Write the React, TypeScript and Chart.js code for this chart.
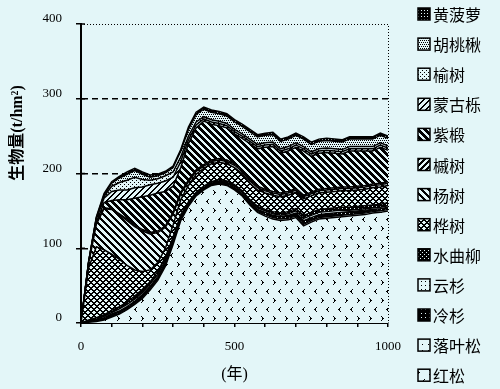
import React, { useEffect, useRef } from "react";
import { Chart, registerables } from "chart.js";
Chart.register(...registerables);

const BG = "#e3f6f8";

// years (x) sampled every 25 years
const years = [0,25,50,75,100,125,150,175,200,225,250,275,300,325,350,375,400,425,450,475,500,525,550,575,600,625,650,675,700,725,750,775,800,825,850,875,900,925,950,975,1000];

// biomass (t/hm2) per species, bottom of the stack first
const hongsong = [0,1,2,4,8,12,18,25,33,44,57,76,105,137,156,170,178,184,186,184,178,170,158,148,143,139,137,138,141,130,135,139,140,141,142,143,144,145,147,148,150];
const luoyesong = [0,0,1,1,1,1,1,1,2,2,2,2,2,1,1,1,1,1,1,1,1,1,1,1,2,2,2,2,2,2,2,2,2,2,2,2,2,2,2,2,2];
const lengshan = [0,1,1,2,3,3,3,3,3,3,3,3,3,2,2,1,1,1,2,2,2,2,2,3,3,3,3,4,4,5,4,4,4,4,4,4,4,4,3,3,3];
const yunshan = [0,1,1,2,2,3,3,3,3,3,3,3,2,2,1,1,1,1,1,1,2,2,2,2,2,2,2,2,3,3,3,3,3,3,3,2,2,2,2,2,2];
const shuiquliu = [0,1,2,2,3,3,3,4,4,3,4,4,3,3,2,2,2,2,2,2,2,2,2,2,2,3,3,3,3,4,4,4,4,4,4,4,4,4,4,4,4];
const huashu = [0,70,95,87,75,63,49,35,24,16,12,12,16,20,22,24,24,24,23,23,23,23,22,22,22,22,22,22,22,22,22,22,22,22,22,22,22,22,23,23,23];
const yangshu = [0,6,30,55,60,60,60,58,54,48,40,28,15,8,5,4,3,3,3,3,3,3,3,3,3,3,3,3,3,3,3,3,3,3,3,3,3,3,3,3,3];
const qishu = [0,0,1,1,1,1,2,2,2,2,2,2,2,2,2,2,2,2,2,2,2,2,2,2,2,2,2,2,2,2,2,2,2,2,2,2,2,2,2,2,2];
const ziduan = [0,0,2,7,11,19,26,36,44,50,51,46,35,33,49,56,58,48,44,43,40,42,48,50,56,60,53,54,55,59,48,48,48,46,44,48,47,46,44,48,42];
const mengguli = [0,2,4,6,12,13,13,14,13,14,13,14,12,8,5,4,3,3,3,3,3,3,3,3,3,3,3,3,3,3,3,3,3,3,3,3,3,3,3,3,3];
const yushu = [0,0,1,2,7,10,13,14,10,6,6,7,7,6,5,4,3,3,3,3,3,3,3,3,3,3,3,3,3,3,3,3,3,3,3,3,3,3,3,3,3];
const hutaoqiu = [0,0,1,2,4,6,8,9,7,4,4,4,6,8,9,10,10,10,10,10,10,10,10,10,10,10,10,10,10,10,10,10,10,10,10,10,10,10,10,10,10];
const huangboluo = [0,0,1,2,2,2,3,3,3,3,2,2,2,2,3,3,3,3,3,3,3,3,3,3,3,3,3,3,3,3,3,3,3,3,3,3,3,3,3,3,3];

const yTicks = [0, 100, 200, 300, 400];
const xTickLabels = [0, 500, 1000];
const yTitle = "生物量(t/hm²)";
const xTitle = "(年)";

const mod = (a: number, n: number) => ((a % n) + n) % n;

function makePattern(w: number, h: number, fn: (x: number, y: number) => boolean): CanvasPattern {
  const c = document.createElement("canvas");
  c.width = w;
  c.height = h;
  const g = c.getContext("2d")!;
  g.fillStyle = BG;
  g.fillRect(0, 0, w, h);
  g.fillStyle = "#000";
  for (let y = 0; y < h; y++) for (let x = 0; x < w; x++) if (fn(x, y)) g.fillRect(x, y, 1, 1);
  return g.createPattern(c, "repeat")!;
}

function buildPatterns() {
  const chev = new Set<string>();
  const lt = [[4,1],[3,2],[2,3],[3,4],[4,5],[3,3]];
  const gt = [[9,10],[10,11],[11,12],[10,13],[9,14],[10,12]];
  [...lt, ...gt].forEach(([x, y]) => chev.add(x + "," + y));
  return {
    hongsong: makePattern(12, 18, (x, y) => chev.has(x + "," + y)),
    luoyesong: makePattern(6, 6, (x, y) => x === 2 && y === 2),
    lengshan: makePattern(4, 4, (x, y) => !(x === 1 && y === 1)),
    yunshan: makePattern(4, 4, (x, y) => x === 1 && y === 1),
    shuiquliu: makePattern(4, 4, (x, y) => !((x === 2 && y === 0) || (x === 0 && y === 2))),
    huashu: makePattern(6, 6, (x, y) => mod(x + y, 6) < 2 || mod(x - y, 6) < 2),
    yangshu: makePattern(7, 7, (x, y) => mod(x - y, 7) < 3),
    qishu: makePattern(6, 6, (x, y) => mod(x + y, 6) < 3),
    ziduan: makePattern(7, 7, (x, y) => mod(x - y, 7) < 4),
    mengguli: makePattern(6, 6, (x, y) => mod(x + y, 6) < 2),
    yushu: makePattern(4, 4, (x, y) => (x === 0 && y === 0) || (x === 2 && y === 2)),
    hutaoqiu: makePattern(4, 4, (x, y) => (y === 0 && (x === 0 || x === 2)) || (y === 2 && (x === 1 || x === 3))),
    huangboluo: makePattern(3, 3, (x, y) => !(x === 1 && y === 1)),
  };
}

export default function App() {
  const ref = useRef<HTMLCanvasElement>(null);
  useEffect(() => {
    const canvas = ref.current!;
    const P = buildPatterns();
    // bottom of stack first
    const stack = [
      { name: "红松", values: hongsong, pat: P.hongsong },
      { name: "落叶松", values: luoyesong, pat: P.luoyesong },
      { name: "冷杉", values: lengshan, pat: P.lengshan },
      { name: "云杉", values: yunshan, pat: P.yunshan },
      { name: "水曲柳", values: shuiquliu, pat: P.shuiquliu },
      { name: "桦树", values: huashu, pat: P.huashu },
      { name: "杨树", values: yangshu, pat: P.yangshu },
      { name: "槭树", values: qishu, pat: P.qishu },
      { name: "紫椴", values: ziduan, pat: P.ziduan },
      { name: "蒙古栎", values: mengguli, pat: P.mengguli },
      { name: "榆树", values: yushu, pat: P.yushu },
      { name: "胡桃楸", values: hutaoqiu, pat: P.hutaoqiu },
      { name: "黄菠萝", values: huangboluo, pat: P.huangboluo },
    ];
    const legendItems = [...stack].reverse();

    const decor = {
      id: "decor",
      afterDraw(chart: any) {
        const { ctx, chartArea: a } = chart;
        ctx.save();
        // dotted top and right frame
        ctx.strokeStyle = "#000";
        ctx.lineWidth = 1;
        ctx.setLineDash([1, 2]);
        ctx.beginPath();
        ctx.moveTo(a.left, a.top + 0.5);
        ctx.lineTo(a.right + 0.5, a.top + 0.5);
        ctx.lineTo(a.right + 0.5, a.bottom);
        ctx.stroke();
        ctx.setLineDash([]);
        // inner y ticks
        const ys = chart.scales.y;
        ctx.lineWidth = 1.5;
        yTicks.forEach((v) => {
          if (v === 0) return;
          const py = ys.getPixelForValue(v);
          ctx.beginPath();
          ctx.moveTo(a.left, py);
          ctx.lineTo(a.left + 4, py);
          ctx.stroke();
        });
        ctx.fillStyle = "#000";
        // y title
        ctx.save();
        ctx.translate(18, 133);
        ctx.rotate(-Math.PI / 2);
        ctx.font = "bold 16px 'Liberation Serif', 'Noto Sans CJK SC'";
        ctx.textAlign = "center";
        ctx.textBaseline = "middle";
        ctx.fillText(yTitle, 0, 0);
        ctx.restore();
        // x title
        ctx.font = "16px 'Liberation Serif', 'Noto Sans CJK SC'";
        ctx.textAlign = "center";
        ctx.textBaseline = "middle";
        ctx.fillText(xTitle, (a.left + a.right) / 2, 375);
        // legend
        ctx.textAlign = "left";
        ctx.font = "16px 'Noto Sans CJK SC'";
        legendItems.forEach((it, i) => {
          const yc = 14 + i * 30.1;
          ctx.fillStyle = it.pat;
          ctx.fillRect(418, yc - 6, 12, 12);
          ctx.strokeStyle = "#000";
          ctx.lineWidth = 1.5;
          ctx.strokeRect(418, yc - 6, 12, 12);
          ctx.fillStyle = "#000";
          ctx.fillText(it.name, 433, yc + 1);
        });
        ctx.restore();
      },
    };

    const chart = new Chart(canvas, {
      type: "line",
      data: {
        datasets: stack.map((s, i) => ({
          label: s.name,
          data: years.map((x, j) => ({ x, y: s.values[j] })),
          backgroundColor: s.pat as any,
          borderColor: "#000",
          borderWidth: 1.5,
          pointRadius: 0,
          tension: 0,
          fill: i === 0 ? "origin" : "-1",
        })),
      },
      options: {
        responsive: false,
        animation: false,
        layout: { padding: { left: 0, top: 24, right: 112, bottom: 0 } },
        plugins: { legend: { display: false }, tooltip: { enabled: false } },
        scales: {
          x: {
            type: "linear",
            min: 0,
            max: 1000,
            afterFit: (s: any) => { s.height = 66; },
            ticks: {
              stepSize: 100,
              autoSkip: false,
              maxRotation: 0,
              padding: 12,
              color: "#000",
              font: { family: "'Liberation Serif'", size: 13 },
              callback: (v: any) => (xTickLabels.includes(Number(v)) ? String(v) : ""),
            },
            grid: { drawOnChartArea: false, color: "#000", tickColor: "#000", tickLength: 4, lineWidth: 1.5 },
            border: { display: true, color: "#000", width: 2 },
          },
          y: {
            stacked: true,
            min: 0,
            max: 400,
            afterFit: (s: any) => { s.width = 81; },
            ticks: {
              stepSize: 100,
              padding: 14,
              labelOffset: -5,
              color: "#000",
              font: { family: "'Liberation Serif'", size: 13 },
              callback: (v: any) => (yTicks.includes(Number(v)) ? String(v) : ""),
            },
            grid: {
              color: (c: any) => (c.tick && c.tick.value > 0 && c.tick.value < 400 ? "#000" : "rgba(0,0,0,0)"),
              tickColor: "#000",
              tickLength: 5,
              lineWidth: 1.5,
            },
            border: { display: true, color: "#000", width: 2, dash: [6, 4] },
          },
        },
      },
      plugins: [decor],
    });
    return () => chart.destroy();
  }, []);
  return (
    <div style={{ position: "fixed", left: 0, top: 0, width: 500, height: 389, background: BG }}>
      <canvas ref={ref} width={500} height={389} style={{ display: "block" }} />
    </div>
  );
}
